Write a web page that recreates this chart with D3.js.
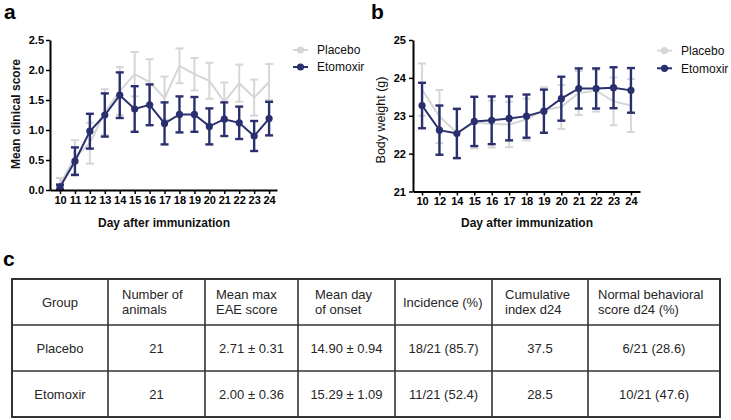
<!DOCTYPE html>
<html><head><meta charset="utf-8">
<script src="https://cdn.jsdelivr.net/npm/d3@7"></script>
<style>
html,body{margin:0;padding:0;background:#fff;}
svg{display:block;font-family:"Liberation Sans",Arial,sans-serif;}
</style></head>
<body>
<svg id="chart" width="731" height="420"></svg>
<script>
// ---------- data ----------
const days = [10,11,12,13,14,15,16,17,18,19,20,21,22,23,24];
const scorePlacebo      = [0.10,0.55,0.78,1.30,1.65,1.93,1.80,1.53,2.07,1.93,1.82,1.47,1.78,1.54,1.80];
const scorePlaceboErr   = [0.10,0.28,0.34,0.38,0.40,0.37,0.38,0.36,0.29,0.27,0.30,0.32,0.31,0.30,0.30];
const scoreEtomoxir     = [0.05,0.48,0.98,1.25,1.58,1.35,1.42,1.11,1.26,1.26,1.06,1.18,1.12,0.90,1.19];
const scoreEtomoxirErr  = [0.04,0.23,0.29,0.36,0.38,0.38,0.34,0.35,0.30,0.29,0.30,0.28,0.27,0.25,0.28];

const bwDays = [10,12,14,15,16,17,18,19,20,21,22,23,24];
const bwPlacebo      = [23.69,22.98,22.55,22.82,22.78,22.77,22.90,23.15,23.23,23.60,23.66,23.38,23.27];
const bwPlaceboErr   = [0.69,0.70,0.65,0.68,0.62,0.60,0.55,0.60,0.58,0.58,0.55,0.63,0.70];
const bwEtomoxir     = [23.27,22.62,22.53,22.85,22.88,22.93,22.99,23.12,23.45,23.72,23.72,23.74,23.67];
const bwEtomoxirErr  = [0.60,0.65,0.65,0.65,0.63,0.58,0.57,0.57,0.58,0.53,0.53,0.54,0.59];

const seriesNames = ["Placebo","Etomoxir"];
const scoreTicks = [0,0.5,1.0,1.5,2.0,2.5];
const bwTicks = [21,22,23,24,25];

const tableHeader = [["Group"],["Number of","animals"],["Mean max","EAE score"],["Mean day","of onset"],["Incidence (%)"],["Cumulative","index d24"],["Normal behavioral","score d24 (%)"]];
const tableRowPlacebo  = ["Placebo","21","2.71 ± 0.31","14.90 ± 0.94","18/21 (85.7)","37.5","6/21 (28.6)"];
const tableRowEtomoxir = ["Etomoxir","21","2.00 ± 0.36","15.29 ± 1.09","11/21 (52.4)","28.5","10/21 (47.6)"];

// ---------- style ----------
const colors = {Placebo:"#d6d6d6", Etomoxir:"#2a2f6e"};
const svg = d3.select("#chart");

function styleAxis(g){
  g.selectAll(".domain").attr("stroke","#000").attr("stroke-width",2);
  g.selectAll(".tick line").attr("stroke","#000").attr("stroke-width",1.5);
  g.selectAll(".tick text").attr("fill","#000").attr("font-size","11px").attr("font-weight","bold")
    .attr("font-family","'Liberation Sans',Arial,sans-serif");
}

function drawSeries(g, xs, ys, errs, x, y, color, sw){
  const pts = xs.map((d,i)=>({x:d,y:ys[i],e:errs[i]}));
  const eb = g.append("g");
  pts.forEach(p=>{
    const cx = x(p.x);
    eb.append("line").attr("x1",cx).attr("x2",cx).attr("y1",y(p.y-p.e)).attr("y2",y(p.y+p.e))
      .attr("stroke",color).attr("stroke-width",sw);
    [p.y-p.e,p.y+p.e].forEach(v=>{
      eb.append("line").attr("x1",cx-4).attr("x2",cx+4).attr("y1",y(v)).attr("y2",y(v))
        .attr("stroke",color).attr("stroke-width",sw);
    });
  });
  g.append("path").datum(pts).attr("fill","none").attr("stroke",color).attr("stroke-width",2)
    .attr("d",d3.line().x(d=>x(d.x)).y(d=>y(d.y)));
  g.selectAll("circle.pt").data(pts).join("circle").attr("class","pt")
    .attr("cx",d=>x(d.x)).attr("cy",d=>y(d.y)).attr("r",3.6).attr("fill",color);
}

function legend(g, x0, ys){
  seriesNames.forEach((n,i)=>{
    const c = colors[n];
    g.append("line").attr("x1",x0).attr("x2",x0+15).attr("y1",ys[i]).attr("y2",ys[i]).attr("stroke",c).attr("stroke-width",2);
    g.append("circle").attr("cx",x0+7.5).attr("cy",ys[i]).attr("r",3.6).attr("fill",c);
    g.append("text").attr("x",x0+24).attr("y",ys[i]+4.3).attr("font-size","12px").attr("fill","#111").text(n);
  });
}

// panel labels
[["a",4,19],["b",371,19],["c",3,266]].forEach(([t,x,y])=>{
  svg.append("text").attr("x",x).attr("y",y).attr("font-size","21px").attr("font-weight","bold").attr("fill","#000").text(t);
});

// ---------- panel a ----------
{
  const x = d3.scaleLinear().domain([9.33,24.53]).range([50,277]);
  const y = d3.scaleLinear().domain([0,2.5]).range([190,40]);
  const g = svg.append("g");
  drawSeries(g, days, scorePlacebo, scorePlaceboErr, x, y, colors.Placebo, 2);
  drawSeries(g, days, scoreEtomoxir, scoreEtomoxirErr, x, y, colors.Etomoxir, 2.4);
  const gx = svg.append("g").attr("transform","translate(0,190)")
    .call(d3.axisBottom(x).tickValues(days).tickSize(4).tickSizeOuter(0).tickPadding(2).tickFormat(d3.format("d")));
  styleAxis(gx);
  const gy = svg.append("g").attr("transform","translate(50,0)")
    .call(d3.axisLeft(y).tickValues(scoreTicks).tickSize(4).tickSizeOuter(0).tickPadding(2).tickFormat(d3.format(".1f")));
  styleAxis(gy);
  svg.append("text").attr("x",164).attr("y",226.5).attr("text-anchor","middle").attr("font-size","12px")
    .attr("font-weight","bold").attr("fill","#111").text("Day after immunization");
  svg.append("text").attr("transform","translate(19.5,114) rotate(-90)").attr("text-anchor","middle")
    .attr("font-size","12px").attr("font-weight","bold").attr("fill","#111").text("Mean clinical score");
  legend(svg.append("g"), 293, [50,67]);
}

// ---------- panel b ----------
{
  const x = d3.scalePoint().domain(bwDays).range([413,640]).padding(0.52);
  const y = d3.scaleLinear().domain([21,25]).range([191.5,40]);
  const g = svg.append("g");
  drawSeries(g, bwDays, bwPlacebo, bwPlaceboErr, x, y, colors.Placebo, 2);
  drawSeries(g, bwDays, bwEtomoxir, bwEtomoxirErr, x, y, colors.Etomoxir, 2.4);
  const gx = svg.append("g").attr("transform","translate(0,191.5)")
    .call(d3.axisBottom(x).tickSize(4).tickSizeOuter(0).tickPadding(2));
  styleAxis(gx);
  const gy = svg.append("g").attr("transform","translate(413,0)")
    .call(d3.axisLeft(y).tickValues(bwTicks).tickSize(4).tickSizeOuter(0).tickPadding(3).tickFormat(d3.format("d")));
  styleAxis(gy);
  svg.append("text").attr("x",527).attr("y",227).attr("text-anchor","middle").attr("font-size","12px")
    .attr("font-weight","bold").attr("fill","#111").text("Day after immunization");
  svg.append("text").attr("transform","translate(384.5,120) rotate(-90)").attr("text-anchor","middle")
    .attr("font-size","12.5px").attr("fill","#111").text("Body weight (g)");
  legend(svg.append("g"), 657, [50.7,68.3]);
}

// ---------- table c ----------
{
  const colEdges = [12,108,205,298,395,492,588,720];
  const rowEdges = [279,325,371,417];
  const headPad = [null,14,11,17,8,13,10];
  const g = svg.append("g");
  const tcol = "#262626";
  // header
  tableHeader.forEach((lines,i)=>{
    const x0 = colEdges[i], x1 = colEdges[i+1];
    const cy = (rowEdges[0]+rowEdges[1])/2;
    lines.forEach((ln,j)=>{
      const yy = cy + (j-(lines.length-1)/2)*15.6 + 4.6;
      const t = g.append("text").attr("y",yy).attr("font-size","13px").attr("fill",tcol).text(ln);
      if (headPad[i]===null || lines.length===1 && i===0) t.attr("x",(x0+x1)/2).attr("text-anchor","middle");
      else t.attr("x",x0+headPad[i]);
    });
  });
  [tableRowPlacebo,tableRowEtomoxir].forEach((row,r)=>{
    const cy = (rowEdges[r+1]+rowEdges[r+2])/2;
    row.forEach((v,i)=>{
      g.append("text").attr("x",(colEdges[i]+colEdges[i+1])/2).attr("y",cy+4.6).attr("text-anchor","middle")
        .attr("font-size","13px").attr("fill",tcol).text(v);
    });
  });
  // grid
  const lc = "#333";
  rowEdges.slice(1,-1).forEach(yv=>g.append("line").attr("x1",colEdges[0]).attr("x2",colEdges[colEdges.length-1])
    .attr("y1",yv).attr("y2",yv).attr("stroke",lc).attr("stroke-width",1.6));
  colEdges.slice(1,-1).forEach(xv=>g.append("line").attr("x1",xv).attr("x2",xv)
    .attr("y1",rowEdges[0]).attr("y2",rowEdges[rowEdges.length-1]).attr("stroke",lc).attr("stroke-width",1.6));
  g.append("rect").attr("x",colEdges[0]).attr("y",rowEdges[0]).attr("width",colEdges[colEdges.length-1]-colEdges[0])
    .attr("height",rowEdges[rowEdges.length-1]-rowEdges[0]).attr("fill","none").attr("stroke",lc).attr("stroke-width",2);
}
</script>
</body></html>
